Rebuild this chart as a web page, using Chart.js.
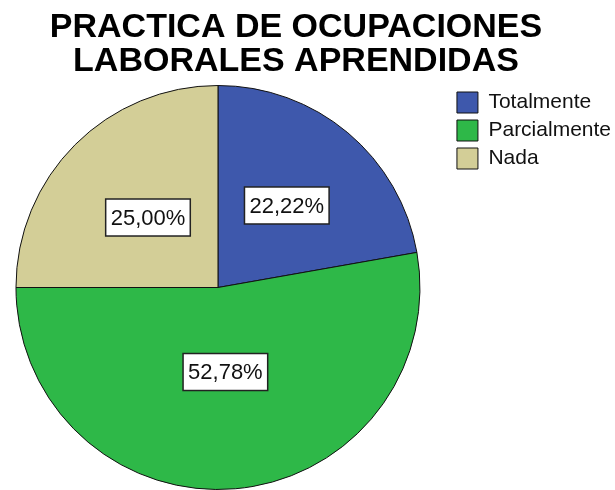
<!DOCTYPE html>
<html lang="es">
<head>
<meta charset="utf-8">
<title>Practica de ocupaciones laborales aprendidas</title>
<script src="https://cdn.jsdelivr.net/npm/chart.js@4.4.1/dist/chart.umd.min.js"></script>
<style>
  html, body { margin: 0; padding: 0; background: #fff; overflow: hidden; }
  /* canvas starts a little left of the page so the pie sits near the left edge */
  #chart { display: block; margin-left: -14px; }
</style>
</head>
<body>
<canvas id="chart" width="629" height="490"></canvas>
<script>
const titleLines = ['PRACTICA DE OCUPACIONES', 'LABORALES APRENDIDAS'];
const categories = ['Totalmente', 'Parcialmente', 'Nada'];
const percentages = [22.22, 52.78, 25.00];
const sliceColors = ['#3E58AC', '#2EB848', '#D3CE97'];

const FONT = '"Liberation Sans", Arial, sans-serif';

function formatPercent(v) {
  return v.toFixed(2).replace('.', ',') + '%';
}

// two-line heading drawn above the pie
const headingPlugin = {
  id: 'heading',
  afterDraw(chart, args, opts) {
    const ctx = chart.ctx;
    ctx.save();
    ctx.fillStyle = '#000';
    ctx.font = `bold ${opts.size}px ${FONT}`;
    ctx.textAlign = 'center';
    ctx.textBaseline = 'alphabetic';
    opts.lines.forEach((line, i) => {
      ctx.fillText(line, opts.x, opts.y + i * opts.lineGap);
    });
    ctx.restore();
  },
};

// boxed percentage labels inside each slice
const sliceLabelPlugin = {
  id: 'sliceLabels',
  afterDatasetsDraw(chart, args, opts) {
    const ctx = chart.ctx;
    const meta = chart.getDatasetMeta(0);
    const values = chart.data.datasets[0].data;
    ctx.save();
    ctx.font = `${opts.size}px ${FONT}`;
    ctx.textAlign = 'center';
    ctx.textBaseline = 'middle';
    meta.data.forEach((arc, i) => {
      const { x, y, startAngle, endAngle, outerRadius } =
        arc.getProps(['x', 'y', 'startAngle', 'endAngle', 'outerRadius'], true);
      const mid = (startAngle + endAngle) / 2;
      const d = outerRadius * opts.radius[i];
      const cx = x + Math.cos(mid) * d;
      const cy = y + Math.sin(mid) * d;
      const text = formatPercent(values[i]);
      const w = ctx.measureText(text).width + opts.padX * 2;
      const h = opts.boxHeight;
      ctx.fillStyle = '#fff';
      ctx.fillRect(cx - w / 2, cy - h / 2, w, h);
      ctx.lineWidth = 1.5;
      ctx.strokeStyle = '#222';
      ctx.strokeRect(cx - w / 2, cy - h / 2, w, h);
      ctx.fillStyle = '#111';
      ctx.fillText(text, cx, cy + 1);
    });
    ctx.restore();
  },
};

new Chart(document.getElementById('chart'), {
  type: 'pie',
  data: {
    labels: categories,
    datasets: [
      {
        data: percentages,
        backgroundColor: sliceColors,
        borderColor: '#111',
        borderWidth: 1,
      },
    ],
  },
  options: {
    responsive: false,
    animation: false,
    layout: {
      padding: { top: 85, bottom: 0, left: 0, right: -6 },
    },
    plugins: {
      tooltip: { enabled: false },
      title: { display: false },
      legend: {
        position: 'right',
        align: 'start',
        labels: {
          color: '#111',
          boxWidth: 21,
          boxHeight: 21,
          padding: 7,
          font: { family: FONT, size: 21 },
        },
      },
      heading: { lines: titleLines, x: 310, y: 37, lineGap: 34, size: 34 },
      sliceLabels: { size: 22, radius: [0.53, 0.42, 0.49], padX: 5, boxHeight: 37 },
    },
  },
  plugins: [headingPlugin, sliceLabelPlugin],
});
</script>
</body>
</html>
